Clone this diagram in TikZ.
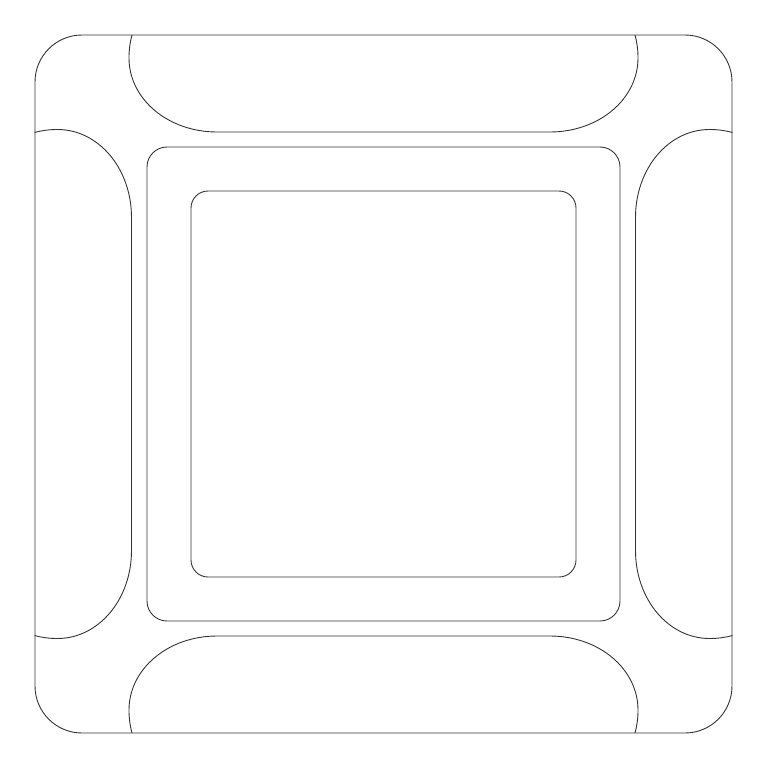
\documentclass[tikz,border=0pt]{standalone}
\begin{document}
\begin{tikzpicture}[x=1pt,y=-1pt]
\tikzset{outline/.style={draw=black!80,line width=0.9pt},
  lobe/.style={outline}}
\useasboundingbox (0,0) rectangle (767,768);
\draw[outline,rounded corners=47pt] (35,35) rectangle (732,733);
\draw[outline,rounded corners=20pt] (147,147) rectangle (620,621);
\draw[outline,rounded corners=17pt] (191,191) rectangle (576,577);
\foreach \a in {0,90,180,270}{
  \draw[lobe,rotate around={\a:(383.5,384)}] (132,35) .. controls (130,42) and (129,50) .. (129,58)
    .. controls (129,99) and (168,132) .. (217,132) -- (550,132)
    .. controls (599,132) and (638,99) .. (638,58)
    .. controls (638,50) and (637,42) .. (635,35);
}
\end{tikzpicture}
\end{document}
